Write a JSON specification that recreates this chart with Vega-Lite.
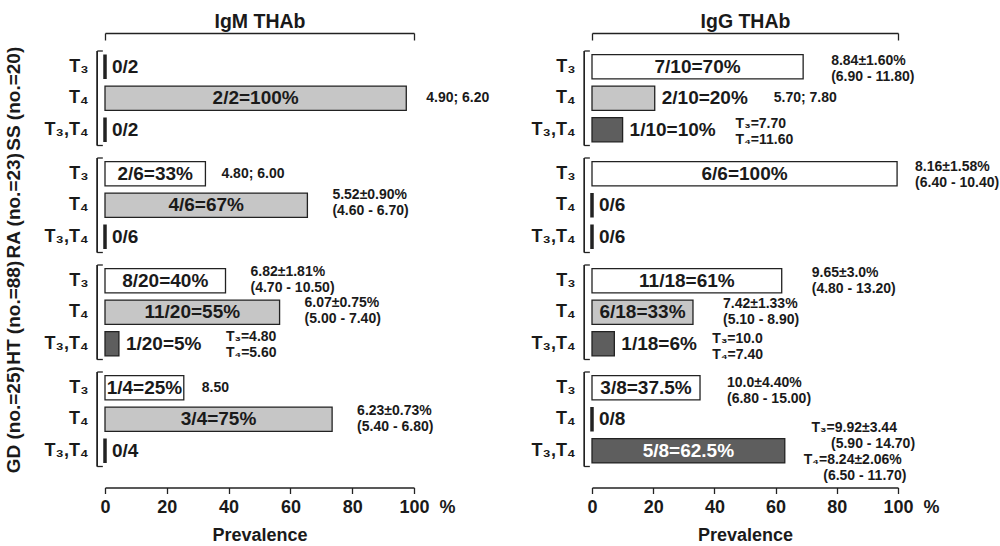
{
  "$schema": "https://vega.github.io/schema/vega-lite/v6.json",
  "padding": {"left": 4, "top": 11, "right": 0, "bottom": 0},
  "config": {
    "font": "Liberation Sans",
    "view": {"stroke": null},
    "axis": {"domainColor": "#222", "tickColor": "#222", "labelColor": "#1a1a1a", "titleColor": "#1a1a1a", "titleFontWeight": "bold", "labelFontWeight": "bold", "grid": false, "domainWidth": 1.3, "tickWidth": 1.3},
    "axisY": {"labelFontSize": 18, "labelPadding": 17, "ticks": false, "domain": false, "titleFontSize": 19, "titlePadding": 21}
  },
  "data": {"values": [
    {"ab": "IgM", "grp": "SS", "cat": "T₃", "pct": 0, "label": "0/2"},
    {"ab": "IgM", "grp": "SS", "cat": "T₄", "pct": 97.5, "label": "2/2=100%", "note": "4.90; 6.20"},
    {"ab": "IgM", "grp": "SS", "cat": "T₃,T₄", "pct": 0, "label": "0/2"},
    {"ab": "IgM", "grp": "RA", "cat": "T₃", "pct": 32.5, "label": "2/6=33%", "note": "4.80; 6.00"},
    {"ab": "IgM", "grp": "RA", "cat": "T₄", "pct": 65.5, "label": "4/6=67%", "note": "5.52±0.90%\n(4.60 - 6.70)"},
    {"ab": "IgM", "grp": "RA", "cat": "T₃,T₄", "pct": 0, "label": "0/6"},
    {"ab": "IgM", "grp": "HT", "cat": "T₃", "pct": 39, "label": "8/20=40%", "note": "6.82±1.81%\n(4.70 - 10.50)"},
    {"ab": "IgM", "grp": "HT", "cat": "T₄", "pct": 56.5, "label": "11/20=55%", "note": "6.07±0.75%\n(5.00 - 7.40)"},
    {"ab": "IgM", "grp": "HT", "cat": "T₃,T₄", "pct": 4.5, "label": "1/20=5%", "note": "T₃=4.80\nT₄=5.60"},
    {"ab": "IgM", "grp": "GD", "cat": "T₃", "pct": 25.5, "label": "1/4=25%", "note": "8.50"},
    {"ab": "IgM", "grp": "GD", "cat": "T₄", "pct": 73.5, "label": "3/4=75%", "note": "6.23±0.73%\n(5.40 - 6.80)"},
    {"ab": "IgM", "grp": "GD", "cat": "T₃,T₄", "pct": 0, "label": "0/4"},
    {"ab": "IgG", "grp": "SS", "cat": "T₃", "pct": 69, "label": "7/10=70%", "note": "8.84±1.60%\n(6.90 - 11.80)"},
    {"ab": "IgG", "grp": "SS", "cat": "T₄", "pct": 20.5, "label": "2/10=20%", "note": "5.70; 7.80"},
    {"ab": "IgG", "grp": "SS", "cat": "T₃,T₄", "pct": 10, "label": "1/10=10%", "note": "T₃=7.70\nT₄=11.60"},
    {"ab": "IgG", "grp": "RA", "cat": "T₃", "pct": 99.7, "label": "6/6=100%", "note": "8.16±1.58%\n(6.40 - 10.40)"},
    {"ab": "IgG", "grp": "RA", "cat": "T₄", "pct": 0, "label": "0/6"},
    {"ab": "IgG", "grp": "RA", "cat": "T₃,T₄", "pct": 0, "label": "0/6"},
    {"ab": "IgG", "grp": "HT", "cat": "T₃", "pct": 62, "label": "11/18=61%", "note": "9.65±3.0%\n(4.80 - 13.20)"},
    {"ab": "IgG", "grp": "HT", "cat": "T₄", "pct": 33, "label": "6/18=33%", "note": "7.42±1.33%\n(5.10 - 8.90)"},
    {"ab": "IgG", "grp": "HT", "cat": "T₃,T₄", "pct": 7.3, "label": "1/18=6%", "note": "T₃=10.0\nT₄=7.40"},
    {"ab": "IgG", "grp": "GD", "cat": "T₃", "pct": 35.3, "label": "3/8=37.5%", "note": "10.0±4.40%\n(6.80 - 15.00)"},
    {"ab": "IgG", "grp": "GD", "cat": "T₄", "pct": 0, "label": "0/8"},
    {"ab": "IgG", "grp": "GD", "cat": "T₃,T₄", "pct": 63, "label": "5/8=62.5%", "note": "\u200b\u00a0\u00a0T₃=9.92±3.44\n\u200b\u00a0\u00a0\u00a0\u00a0\u00a0\u00a0\u00a0(5.90 - 14.70)\nT₄=8.24±2.06%\n\u200b\u00a0\u00a0\u00a0\u00a0\u00a0(6.50 - 11.70)"}
  ]},
  "columns": 2,
  "spacing": {"row": 12, "column": 178},
  "bounds": "flush",
  "concat": [
    {
      "width": 309, "height": 94.5,
      "transform": [{"filter": "datum.ab == 'IgM' && datum.grp == 'SS'"}],
      "resolve": {"scale": {"x": "independent"}},
      "layer": [
        {"mark": {"type": "rule", "stroke": "#222", "strokeWidth": 1.3}, "encoding": {"x": {"datum": -2.5, "type": "quantitative", "scale": {"domain": [0, 100]}, "axis": null}}},
        {"transform": [{"filter": "datum.cat == 'T₃'"}], "mark": {"type": "rule", "stroke": "#222", "strokeWidth": 1.3}, "encoding": {"x": {"datum": -2.5, "type": "quantitative", "scale": {"domain": [0, 100]}, "axis": null}, "x2": {"datum": -0.7}, "y": {"field": "cat", "type": "nominal", "bandPosition": 0, "axis": {"title": "SS (no.=20)"}}}},
        {"transform": [{"filter": "datum.cat == 'T₃,T₄'"}], "mark": {"type": "rule", "stroke": "#222", "strokeWidth": 1.3}, "encoding": {"x": {"datum": -2.5, "type": "quantitative", "scale": {"domain": [0, 100]}, "axis": null}, "x2": {"datum": -0.7}, "y": {"field": "cat", "type": "nominal", "bandPosition": 1, "axis": {"title": "SS (no.=20)"}}}},
        {"mark": {"type": "bar", "height": {"band": 0.77}, "stroke": "#222"},
         "encoding": {
           "x": {"field": "pct", "type": "quantitative", "scale": {"domain": [0, 100]}, "axis": {"orient": "top", "values": [0, 100], "labels": false, "tickSize": -7, "offset": 18, "title": "IgM THAb", "titleFontSize": 19.5, "titlePadding": 1}},
           "y": {"field": "cat", "type": "nominal", "scale": {"domain": ["T₃", "T₄", "T₃,T₄"], "paddingInner": 0, "paddingOuter": 0}, "axis": {"title": "SS (no.=20)"}},
           "fill": {"field": "cat", "type": "nominal", "scale": {"domain": ["T₃", "T₄", "T₃,T₄"], "range": ["#ffffff", "#c6c6c6", "#5e5e5e"]}, "legend": null},
           "strokeWidth": {"condition": {"test": "datum.pct == 0", "value": 3.5}, "value": 1.3}
         }},
        {"transform": [{"filter": "datum.pct >= 25"}], "mark": {"type": "text", "fontSize": 19, "fontWeight": "bold", "baseline": "middle", "align": "center"},
         "encoding": {"x": {"field": "pct", "type": "quantitative", "scale": {"domain": [0, 200]}, "axis": null}, "y": {"field": "cat", "type": "nominal", "axis": {"title": "SS (no.=20)"}}, "text": {"field": "label"}, "color": {"condition": {"test": "datum.cat == 'T₃,T₄'", "value": "#ffffff"}, "value": "#1a1a1a"}}},
        {"transform": [{"filter": "datum.pct < 25"}], "mark": {"type": "text", "fontSize": 19, "fontWeight": "bold", "baseline": "middle", "align": "left", "dx": 7, "color": "#1a1a1a"},
         "encoding": {"x": {"field": "pct", "type": "quantitative", "scale": {"domain": [0, 100]}, "axis": null}, "y": {"field": "cat", "type": "nominal", "axis": {"title": "SS (no.=20)"}}, "text": {"field": "label"}}},
        {"transform": [{"filter": "datum.pct >= 25 && datum.note && indexof(datum.note, '\\n') < 0"}], "mark": {"type": "text", "fontSize": 14, "fontWeight": "bold", "baseline": "middle", "align": "left", "dx": 20, "color": "#1a1a1a"},
         "encoding": {"x": {"field": "pct", "type": "quantitative", "scale": {"domain": [0, 100]}, "axis": null}, "y": {"field": "cat", "type": "nominal", "axis": {"title": "SS (no.=20)"}}, "text": {"field": "note"}}}
      ]
    },
    {
      "width": 306, "height": 94.5,
      "transform": [{"filter": "datum.ab == 'IgG' && datum.grp == 'SS'"}],
      "resolve": {"scale": {"x": "independent"}},
      "layer": [
        {"mark": {"type": "rule", "stroke": "#222", "strokeWidth": 1.3}, "encoding": {"x": {"datum": -2.5, "type": "quantitative", "scale": {"domain": [0, 100]}, "axis": null}}},
        {"transform": [{"filter": "datum.cat == 'T₃'"}], "mark": {"type": "rule", "stroke": "#222", "strokeWidth": 1.3}, "encoding": {"x": {"datum": -2.5, "type": "quantitative", "scale": {"domain": [0, 100]}, "axis": null}, "x2": {"datum": -0.7}, "y": {"field": "cat", "type": "nominal", "bandPosition": 0, "axis": {"title": null}}}},
        {"transform": [{"filter": "datum.cat == 'T₃,T₄'"}], "mark": {"type": "rule", "stroke": "#222", "strokeWidth": 1.3}, "encoding": {"x": {"datum": -2.5, "type": "quantitative", "scale": {"domain": [0, 100]}, "axis": null}, "x2": {"datum": -0.7}, "y": {"field": "cat", "type": "nominal", "bandPosition": 1, "axis": {"title": null}}}},
        {"mark": {"type": "bar", "height": {"band": 0.77}, "stroke": "#222"},
         "encoding": {
           "x": {"field": "pct", "type": "quantitative", "scale": {"domain": [0, 100]}, "axis": {"orient": "top", "values": [0, 100], "labels": false, "tickSize": -7, "offset": 18, "title": "IgG THAb", "titleFontSize": 19.5, "titlePadding": 1}},
           "y": {"field": "cat", "type": "nominal", "scale": {"domain": ["T₃", "T₄", "T₃,T₄"], "paddingInner": 0, "paddingOuter": 0}, "axis": {"title": null}},
           "fill": {"field": "cat", "type": "nominal", "scale": {"domain": ["T₃", "T₄", "T₃,T₄"], "range": ["#ffffff", "#c6c6c6", "#5e5e5e"]}, "legend": null},
           "strokeWidth": {"condition": {"test": "datum.pct == 0", "value": 3.5}, "value": 1.3}
         }},
        {"transform": [{"filter": "datum.pct >= 25"}], "mark": {"type": "text", "fontSize": 19, "fontWeight": "bold", "baseline": "middle", "align": "center"},
         "encoding": {"x": {"field": "pct", "type": "quantitative", "scale": {"domain": [0, 200]}, "axis": null}, "y": {"field": "cat", "type": "nominal", "axis": {"title": null}}, "text": {"field": "label"}, "color": {"condition": {"test": "datum.cat == 'T₃,T₄'", "value": "#ffffff"}, "value": "#1a1a1a"}}},
        {"transform": [{"filter": "datum.pct < 25"}], "mark": {"type": "text", "fontSize": 19, "fontWeight": "bold", "baseline": "middle", "align": "left", "dx": 7, "color": "#1a1a1a"},
         "encoding": {"x": {"field": "pct", "type": "quantitative", "scale": {"domain": [0, 100]}, "axis": null}, "y": {"field": "cat", "type": "nominal", "axis": {"title": null}}, "text": {"field": "label"}}},
        {"transform": [{"filter": "datum.pct >= 25 && datum.note && indexof(datum.note, '\\n') >= 0"}], "mark": {"type": "text", "fontSize": 14, "fontWeight": "bold", "baseline": "middle", "align": "left", "dx": 28, "dy": -6, "lineBreak": "\n", "lineHeight": 16, "color": "#1a1a1a"},
         "encoding": {"x": {"field": "pct", "type": "quantitative", "scale": {"domain": [0, 100]}, "axis": null}, "y": {"field": "cat", "type": "nominal", "axis": {"title": null}}, "text": {"field": "note"}}},
        {"transform": [{"filter": "datum.pct < 25 && datum.note && indexof(datum.note, '\\n') < 0"}], "mark": {"type": "text", "fontSize": 14, "fontWeight": "bold", "baseline": "middle", "align": "left", "dx": 119, "color": "#1a1a1a"},
         "encoding": {"x": {"field": "pct", "type": "quantitative", "scale": {"domain": [0, 100]}, "axis": null}, "y": {"field": "cat", "type": "nominal", "axis": {"title": null}}, "text": {"field": "note"}}},
        {"transform": [{"filter": "datum.pct < 25 && datum.note && indexof(datum.note, '\\n') >= 0"}], "mark": {"type": "text", "fontSize": 14, "fontWeight": "bold", "baseline": "middle", "align": "left", "dx": 113, "dy": -6, "lineBreak": "\n", "lineHeight": 16, "color": "#1a1a1a"},
         "encoding": {"x": {"field": "pct", "type": "quantitative", "scale": {"domain": [0, 100]}, "axis": null}, "y": {"field": "cat", "type": "nominal", "axis": {"title": null}}, "text": {"field": "note"}}}
      ]
    },
    {
      "width": 309, "height": 94.5,
      "transform": [{"filter": "datum.ab == 'IgM' && datum.grp == 'RA'"}],
      "resolve": {"scale": {"x": "independent"}},
      "layer": [
        {"mark": {"type": "rule", "stroke": "#222", "strokeWidth": 1.3}, "encoding": {"x": {"datum": -2.5, "type": "quantitative", "scale": {"domain": [0, 100]}, "axis": null}}},
        {"transform": [{"filter": "datum.cat == 'T₃'"}], "mark": {"type": "rule", "stroke": "#222", "strokeWidth": 1.3}, "encoding": {"x": {"datum": -2.5, "type": "quantitative", "scale": {"domain": [0, 100]}, "axis": null}, "x2": {"datum": -0.7}, "y": {"field": "cat", "type": "nominal", "bandPosition": 0, "axis": {"title": "RA (no.=23)"}}}},
        {"transform": [{"filter": "datum.cat == 'T₃,T₄'"}], "mark": {"type": "rule", "stroke": "#222", "strokeWidth": 1.3}, "encoding": {"x": {"datum": -2.5, "type": "quantitative", "scale": {"domain": [0, 100]}, "axis": null}, "x2": {"datum": -0.7}, "y": {"field": "cat", "type": "nominal", "bandPosition": 1, "axis": {"title": "RA (no.=23)"}}}},
        {"mark": {"type": "bar", "height": {"band": 0.77}, "stroke": "#222"},
         "encoding": {
           "x": {"field": "pct", "type": "quantitative", "scale": {"domain": [0, 100]}, "axis": null},
           "y": {"field": "cat", "type": "nominal", "scale": {"domain": ["T₃", "T₄", "T₃,T₄"], "paddingInner": 0, "paddingOuter": 0}, "axis": {"title": "RA (no.=23)"}},
           "fill": {"field": "cat", "type": "nominal", "scale": {"domain": ["T₃", "T₄", "T₃,T₄"], "range": ["#ffffff", "#c6c6c6", "#5e5e5e"]}, "legend": null},
           "strokeWidth": {"condition": {"test": "datum.pct == 0", "value": 3.5}, "value": 1.3}
         }},
        {"transform": [{"filter": "datum.pct >= 25"}], "mark": {"type": "text", "fontSize": 19, "fontWeight": "bold", "baseline": "middle", "align": "center"},
         "encoding": {"x": {"field": "pct", "type": "quantitative", "scale": {"domain": [0, 200]}, "axis": null}, "y": {"field": "cat", "type": "nominal", "axis": {"title": "RA (no.=23)"}}, "text": {"field": "label"}, "color": {"condition": {"test": "datum.cat == 'T₃,T₄'", "value": "#ffffff"}, "value": "#1a1a1a"}}},
        {"transform": [{"filter": "datum.pct < 25"}], "mark": {"type": "text", "fontSize": 19, "fontWeight": "bold", "baseline": "middle", "align": "left", "dx": 7, "color": "#1a1a1a"},
         "encoding": {"x": {"field": "pct", "type": "quantitative", "scale": {"domain": [0, 100]}, "axis": null}, "y": {"field": "cat", "type": "nominal", "axis": {"title": "RA (no.=23)"}}, "text": {"field": "label"}}},
        {"transform": [{"filter": "datum.pct >= 25 && datum.note && indexof(datum.note, '\\n') < 0"}], "mark": {"type": "text", "fontSize": 14, "fontWeight": "bold", "baseline": "middle", "align": "left", "dx": 16, "color": "#1a1a1a"},
         "encoding": {"x": {"field": "pct", "type": "quantitative", "scale": {"domain": [0, 100]}, "axis": null}, "y": {"field": "cat", "type": "nominal", "axis": {"title": "RA (no.=23)"}}, "text": {"field": "note"}}},
        {"transform": [{"filter": "datum.pct >= 25 && datum.note && indexof(datum.note, '\\n') >= 0"}], "mark": {"type": "text", "fontSize": 14, "fontWeight": "bold", "baseline": "middle", "align": "left", "dx": 25, "dy": -10, "lineBreak": "\n", "lineHeight": 16, "color": "#1a1a1a"},
         "encoding": {"x": {"field": "pct", "type": "quantitative", "scale": {"domain": [0, 100]}, "axis": null}, "y": {"field": "cat", "type": "nominal", "axis": {"title": "RA (no.=23)"}}, "text": {"field": "note"}}}
      ]
    },
    {
      "width": 306, "height": 94.5,
      "transform": [{"filter": "datum.ab == 'IgG' && datum.grp == 'RA'"}],
      "resolve": {"scale": {"x": "independent"}},
      "layer": [
        {"mark": {"type": "rule", "stroke": "#222", "strokeWidth": 1.3}, "encoding": {"x": {"datum": -2.5, "type": "quantitative", "scale": {"domain": [0, 100]}, "axis": null}}},
        {"transform": [{"filter": "datum.cat == 'T₃'"}], "mark": {"type": "rule", "stroke": "#222", "strokeWidth": 1.3}, "encoding": {"x": {"datum": -2.5, "type": "quantitative", "scale": {"domain": [0, 100]}, "axis": null}, "x2": {"datum": -0.7}, "y": {"field": "cat", "type": "nominal", "bandPosition": 0, "axis": {"title": null}}}},
        {"transform": [{"filter": "datum.cat == 'T₃,T₄'"}], "mark": {"type": "rule", "stroke": "#222", "strokeWidth": 1.3}, "encoding": {"x": {"datum": -2.5, "type": "quantitative", "scale": {"domain": [0, 100]}, "axis": null}, "x2": {"datum": -0.7}, "y": {"field": "cat", "type": "nominal", "bandPosition": 1, "axis": {"title": null}}}},
        {"mark": {"type": "bar", "height": {"band": 0.77}, "stroke": "#222"},
         "encoding": {
           "x": {"field": "pct", "type": "quantitative", "scale": {"domain": [0, 100]}, "axis": null},
           "y": {"field": "cat", "type": "nominal", "scale": {"domain": ["T₃", "T₄", "T₃,T₄"], "paddingInner": 0, "paddingOuter": 0}, "axis": {"title": null}},
           "fill": {"field": "cat", "type": "nominal", "scale": {"domain": ["T₃", "T₄", "T₃,T₄"], "range": ["#ffffff", "#c6c6c6", "#5e5e5e"]}, "legend": null},
           "strokeWidth": {"condition": {"test": "datum.pct == 0", "value": 3.5}, "value": 1.3}
         }},
        {"transform": [{"filter": "datum.pct >= 25"}], "mark": {"type": "text", "fontSize": 19, "fontWeight": "bold", "baseline": "middle", "align": "center"},
         "encoding": {"x": {"field": "pct", "type": "quantitative", "scale": {"domain": [0, 200]}, "axis": null}, "y": {"field": "cat", "type": "nominal", "axis": {"title": null}}, "text": {"field": "label"}, "color": {"condition": {"test": "datum.cat == 'T₃,T₄'", "value": "#ffffff"}, "value": "#1a1a1a"}}},
        {"transform": [{"filter": "datum.pct < 25"}], "mark": {"type": "text", "fontSize": 19, "fontWeight": "bold", "baseline": "middle", "align": "left", "dx": 7, "color": "#1a1a1a"},
         "encoding": {"x": {"field": "pct", "type": "quantitative", "scale": {"domain": [0, 100]}, "axis": null}, "y": {"field": "cat", "type": "nominal", "axis": {"title": null}}, "text": {"field": "label"}}},
        {"transform": [{"filter": "datum.pct >= 25 && datum.note && indexof(datum.note, '\\n') >= 0"}], "mark": {"type": "text", "fontSize": 14, "fontWeight": "bold", "baseline": "middle", "align": "left", "dx": 18, "dy": -7, "lineBreak": "\n", "lineHeight": 16, "color": "#1a1a1a"},
         "encoding": {"x": {"field": "pct", "type": "quantitative", "scale": {"domain": [0, 100]}, "axis": null}, "y": {"field": "cat", "type": "nominal", "axis": {"title": null}}, "text": {"field": "note"}}}
      ]
    },
    {
      "width": 309, "height": 94.5,
      "transform": [{"filter": "datum.ab == 'IgM' && datum.grp == 'HT'"}],
      "resolve": {"scale": {"x": "independent"}},
      "layer": [
        {"mark": {"type": "rule", "stroke": "#222", "strokeWidth": 1.3}, "encoding": {"x": {"datum": -2.5, "type": "quantitative", "scale": {"domain": [0, 100]}, "axis": null}}},
        {"transform": [{"filter": "datum.cat == 'T₃'"}], "mark": {"type": "rule", "stroke": "#222", "strokeWidth": 1.3}, "encoding": {"x": {"datum": -2.5, "type": "quantitative", "scale": {"domain": [0, 100]}, "axis": null}, "x2": {"datum": -0.7}, "y": {"field": "cat", "type": "nominal", "bandPosition": 0, "axis": {"title": "HT (no.=88)"}}}},
        {"transform": [{"filter": "datum.cat == 'T₃,T₄'"}], "mark": {"type": "rule", "stroke": "#222", "strokeWidth": 1.3}, "encoding": {"x": {"datum": -2.5, "type": "quantitative", "scale": {"domain": [0, 100]}, "axis": null}, "x2": {"datum": -0.7}, "y": {"field": "cat", "type": "nominal", "bandPosition": 1, "axis": {"title": "HT (no.=88)"}}}},
        {"mark": {"type": "bar", "height": {"band": 0.77}, "stroke": "#222"},
         "encoding": {
           "x": {"field": "pct", "type": "quantitative", "scale": {"domain": [0, 100]}, "axis": null},
           "y": {"field": "cat", "type": "nominal", "scale": {"domain": ["T₃", "T₄", "T₃,T₄"], "paddingInner": 0, "paddingOuter": 0}, "axis": {"title": "HT (no.=88)"}},
           "fill": {"field": "cat", "type": "nominal", "scale": {"domain": ["T₃", "T₄", "T₃,T₄"], "range": ["#ffffff", "#c6c6c6", "#5e5e5e"]}, "legend": null},
           "strokeWidth": {"condition": {"test": "datum.pct == 0", "value": 3.5}, "value": 1.3}
         }},
        {"transform": [{"filter": "datum.pct >= 25"}], "mark": {"type": "text", "fontSize": 19, "fontWeight": "bold", "baseline": "middle", "align": "center"},
         "encoding": {"x": {"field": "pct", "type": "quantitative", "scale": {"domain": [0, 200]}, "axis": null}, "y": {"field": "cat", "type": "nominal", "axis": {"title": "HT (no.=88)"}}, "text": {"field": "label"}, "color": {"condition": {"test": "datum.cat == 'T₃,T₄'", "value": "#ffffff"}, "value": "#1a1a1a"}}},
        {"transform": [{"filter": "datum.pct < 25"}], "mark": {"type": "text", "fontSize": 19, "fontWeight": "bold", "baseline": "middle", "align": "left", "dx": 7, "color": "#1a1a1a"},
         "encoding": {"x": {"field": "pct", "type": "quantitative", "scale": {"domain": [0, 100]}, "axis": null}, "y": {"field": "cat", "type": "nominal", "axis": {"title": "HT (no.=88)"}}, "text": {"field": "label"}}},
        {"transform": [{"filter": "datum.pct >= 25 && datum.note && indexof(datum.note, '\\n') >= 0"}], "mark": {"type": "text", "fontSize": 14, "fontWeight": "bold", "baseline": "middle", "align": "left", "dx": 25, "dy": -9, "lineBreak": "\n", "lineHeight": 16, "color": "#1a1a1a"},
         "encoding": {"x": {"field": "pct", "type": "quantitative", "scale": {"domain": [0, 100]}, "axis": null}, "y": {"field": "cat", "type": "nominal", "axis": {"title": "HT (no.=88)"}}, "text": {"field": "note"}}},
        {"transform": [{"filter": "datum.pct < 25 && datum.note && indexof(datum.note, '\\n') >= 0"}], "mark": {"type": "text", "fontSize": 14, "fontWeight": "bold", "baseline": "middle", "align": "left", "dx": 107, "dy": -7, "lineBreak": "\n", "lineHeight": 16, "color": "#1a1a1a"},
         "encoding": {"x": {"field": "pct", "type": "quantitative", "scale": {"domain": [0, 100]}, "axis": null}, "y": {"field": "cat", "type": "nominal", "axis": {"title": "HT (no.=88)"}}, "text": {"field": "note"}}}
      ]
    },
    {
      "width": 306, "height": 94.5,
      "transform": [{"filter": "datum.ab == 'IgG' && datum.grp == 'HT'"}],
      "resolve": {"scale": {"x": "independent"}},
      "layer": [
        {"mark": {"type": "rule", "stroke": "#222", "strokeWidth": 1.3}, "encoding": {"x": {"datum": -2.5, "type": "quantitative", "scale": {"domain": [0, 100]}, "axis": null}}},
        {"transform": [{"filter": "datum.cat == 'T₃'"}], "mark": {"type": "rule", "stroke": "#222", "strokeWidth": 1.3}, "encoding": {"x": {"datum": -2.5, "type": "quantitative", "scale": {"domain": [0, 100]}, "axis": null}, "x2": {"datum": -0.7}, "y": {"field": "cat", "type": "nominal", "bandPosition": 0, "axis": {"title": null}}}},
        {"transform": [{"filter": "datum.cat == 'T₃,T₄'"}], "mark": {"type": "rule", "stroke": "#222", "strokeWidth": 1.3}, "encoding": {"x": {"datum": -2.5, "type": "quantitative", "scale": {"domain": [0, 100]}, "axis": null}, "x2": {"datum": -0.7}, "y": {"field": "cat", "type": "nominal", "bandPosition": 1, "axis": {"title": null}}}},
        {"mark": {"type": "bar", "height": {"band": 0.77}, "stroke": "#222"},
         "encoding": {
           "x": {"field": "pct", "type": "quantitative", "scale": {"domain": [0, 100]}, "axis": null},
           "y": {"field": "cat", "type": "nominal", "scale": {"domain": ["T₃", "T₄", "T₃,T₄"], "paddingInner": 0, "paddingOuter": 0}, "axis": {"title": null}},
           "fill": {"field": "cat", "type": "nominal", "scale": {"domain": ["T₃", "T₄", "T₃,T₄"], "range": ["#ffffff", "#c6c6c6", "#5e5e5e"]}, "legend": null},
           "strokeWidth": {"condition": {"test": "datum.pct == 0", "value": 3.5}, "value": 1.3}
         }},
        {"transform": [{"filter": "datum.pct >= 25"}], "mark": {"type": "text", "fontSize": 19, "fontWeight": "bold", "baseline": "middle", "align": "center"},
         "encoding": {"x": {"field": "pct", "type": "quantitative", "scale": {"domain": [0, 200]}, "axis": null}, "y": {"field": "cat", "type": "nominal", "axis": {"title": null}}, "text": {"field": "label"}, "color": {"condition": {"test": "datum.cat == 'T₃,T₄'", "value": "#ffffff"}, "value": "#1a1a1a"}}},
        {"transform": [{"filter": "datum.pct < 25"}], "mark": {"type": "text", "fontSize": 19, "fontWeight": "bold", "baseline": "middle", "align": "left", "dx": 7, "color": "#1a1a1a"},
         "encoding": {"x": {"field": "pct", "type": "quantitative", "scale": {"domain": [0, 100]}, "axis": null}, "y": {"field": "cat", "type": "nominal", "axis": {"title": null}}, "text": {"field": "label"}}},
        {"transform": [{"filter": "datum.pct >= 25 && datum.note && indexof(datum.note, '\\n') >= 0"}], "mark": {"type": "text", "fontSize": 14, "fontWeight": "bold", "baseline": "middle", "align": "left", "dx": 30, "dy": -8, "lineBreak": "\n", "lineHeight": 16, "color": "#1a1a1a"},
         "encoding": {"x": {"field": "pct", "type": "quantitative", "scale": {"domain": [0, 100]}, "axis": null}, "y": {"field": "cat", "type": "nominal", "axis": {"title": null}}, "text": {"field": "note"}}},
        {"transform": [{"filter": "datum.pct < 25 && datum.note && indexof(datum.note, '\\n') >= 0"}], "mark": {"type": "text", "fontSize": 14, "fontWeight": "bold", "baseline": "middle", "align": "left", "dx": 98, "dy": -5, "lineBreak": "\n", "lineHeight": 16, "color": "#1a1a1a"},
         "encoding": {"x": {"field": "pct", "type": "quantitative", "scale": {"domain": [0, 100]}, "axis": null}, "y": {"field": "cat", "type": "nominal", "axis": {"title": null}}, "text": {"field": "note"}}}
      ]
    },
    {
      "width": 309, "height": 94.5,
      "transform": [{"filter": "datum.ab == 'IgM' && datum.grp == 'GD'"}],
      "resolve": {"scale": {"x": "independent"}},
      "layer": [
        {"mark": {"type": "rule", "stroke": "#222", "strokeWidth": 1.3}, "encoding": {"x": {"datum": -2.5, "type": "quantitative", "scale": {"domain": [0, 100]}, "axis": null}}},
        {"transform": [{"filter": "datum.cat == 'T₃'"}], "mark": {"type": "rule", "stroke": "#222", "strokeWidth": 1.3}, "encoding": {"x": {"datum": -2.5, "type": "quantitative", "scale": {"domain": [0, 100]}, "axis": null}, "x2": {"datum": -0.7}, "y": {"field": "cat", "type": "nominal", "bandPosition": 0, "axis": {"title": "GD (no.=25)"}}}},
        {"transform": [{"filter": "datum.cat == 'T₃,T₄'"}], "mark": {"type": "rule", "stroke": "#222", "strokeWidth": 1.3}, "encoding": {"x": {"datum": -2.5, "type": "quantitative", "scale": {"domain": [0, 100]}, "axis": null}, "x2": {"datum": -0.7}, "y": {"field": "cat", "type": "nominal", "bandPosition": 1, "axis": {"title": "GD (no.=25)"}}}},
        {"mark": {"type": "bar", "height": {"band": 0.77}, "stroke": "#222"},
         "encoding": {
           "x": {"field": "pct", "type": "quantitative", "scale": {"domain": [0, 100]}, "axis": {"orient": "bottom", "values": [0, 20, 40, 60, 80, 100], "offset": 21, "tickSize": 6, "labelFontSize": 18, "labelPadding": 5, "labelFlush": false, "labelOverlap": false, "labelExpr": "datum.value == 100 ? '100\u00a0 %' : datum.label", "labelAlign": {"condition": {"test": "datum.value == 100", "value": "left"}, "value": "center"}, "labelOffset": {"condition": {"test": "datum.value == 100", "value": -15}, "value": 0}, "title": "Prevalence", "titleFontSize": 18, "titlePadding": 10}},
           "y": {"field": "cat", "type": "nominal", "scale": {"domain": ["T₃", "T₄", "T₃,T₄"], "paddingInner": 0, "paddingOuter": 0}, "axis": {"title": "GD (no.=25)"}},
           "fill": {"field": "cat", "type": "nominal", "scale": {"domain": ["T₃", "T₄", "T₃,T₄"], "range": ["#ffffff", "#c6c6c6", "#5e5e5e"]}, "legend": null},
           "strokeWidth": {"condition": {"test": "datum.pct == 0", "value": 3.5}, "value": 1.3}
         }},
        {"transform": [{"filter": "datum.pct >= 25"}], "mark": {"type": "text", "fontSize": 19, "fontWeight": "bold", "baseline": "middle", "align": "center"},
         "encoding": {"x": {"field": "pct", "type": "quantitative", "scale": {"domain": [0, 200]}, "axis": null}, "y": {"field": "cat", "type": "nominal", "axis": {"title": "GD (no.=25)"}}, "text": {"field": "label"}, "color": {"condition": {"test": "datum.cat == 'T₃,T₄'", "value": "#ffffff"}, "value": "#1a1a1a"}}},
        {"transform": [{"filter": "datum.pct < 25"}], "mark": {"type": "text", "fontSize": 19, "fontWeight": "bold", "baseline": "middle", "align": "left", "dx": 7, "color": "#1a1a1a"},
         "encoding": {"x": {"field": "pct", "type": "quantitative", "scale": {"domain": [0, 100]}, "axis": null}, "y": {"field": "cat", "type": "nominal", "axis": {"title": "GD (no.=25)"}}, "text": {"field": "label"}}},
        {"transform": [{"filter": "datum.pct >= 25 && datum.note && indexof(datum.note, '\\n') < 0"}], "mark": {"type": "text", "fontSize": 14, "fontWeight": "bold", "baseline": "middle", "align": "left", "dx": 18, "color": "#1a1a1a"},
         "encoding": {"x": {"field": "pct", "type": "quantitative", "scale": {"domain": [0, 100]}, "axis": null}, "y": {"field": "cat", "type": "nominal", "axis": {"title": "GD (no.=25)"}}, "text": {"field": "note"}}},
        {"transform": [{"filter": "datum.pct >= 25 && datum.note && indexof(datum.note, '\\n') >= 0"}], "mark": {"type": "text", "fontSize": 14, "fontWeight": "bold", "baseline": "middle", "align": "left", "dx": 25, "dy": -8, "lineBreak": "\n", "lineHeight": 16, "color": "#1a1a1a"},
         "encoding": {"x": {"field": "pct", "type": "quantitative", "scale": {"domain": [0, 100]}, "axis": null}, "y": {"field": "cat", "type": "nominal", "axis": {"title": "GD (no.=25)"}}, "text": {"field": "note"}}}
      ]
    },
    {
      "width": 306, "height": 94.5,
      "transform": [{"filter": "datum.ab == 'IgG' && datum.grp == 'GD'"}],
      "resolve": {"scale": {"x": "independent"}},
      "layer": [
        {"mark": {"type": "rule", "stroke": "#222", "strokeWidth": 1.3}, "encoding": {"x": {"datum": -2.5, "type": "quantitative", "scale": {"domain": [0, 100]}, "axis": null}}},
        {"transform": [{"filter": "datum.cat == 'T₃'"}], "mark": {"type": "rule", "stroke": "#222", "strokeWidth": 1.3}, "encoding": {"x": {"datum": -2.5, "type": "quantitative", "scale": {"domain": [0, 100]}, "axis": null}, "x2": {"datum": -0.7}, "y": {"field": "cat", "type": "nominal", "bandPosition": 0, "axis": {"title": null}}}},
        {"transform": [{"filter": "datum.cat == 'T₃,T₄'"}], "mark": {"type": "rule", "stroke": "#222", "strokeWidth": 1.3}, "encoding": {"x": {"datum": -2.5, "type": "quantitative", "scale": {"domain": [0, 100]}, "axis": null}, "x2": {"datum": -0.7}, "y": {"field": "cat", "type": "nominal", "bandPosition": 1, "axis": {"title": null}}}},
        {"mark": {"type": "bar", "height": {"band": 0.77}, "stroke": "#222"},
         "encoding": {
           "x": {"field": "pct", "type": "quantitative", "scale": {"domain": [0, 100]}, "axis": {"orient": "bottom", "values": [0, 20, 40, 60, 80, 100], "offset": 21, "tickSize": 6, "labelFontSize": 18, "labelPadding": 5, "labelFlush": false, "labelOverlap": false, "labelExpr": "datum.value == 100 ? '100\u00a0 %' : datum.label", "labelAlign": {"condition": {"test": "datum.value == 100", "value": "left"}, "value": "center"}, "labelOffset": {"condition": {"test": "datum.value == 100", "value": -15}, "value": 0}, "title": "Prevalence", "titleFontSize": 18, "titlePadding": 10}},
           "y": {"field": "cat", "type": "nominal", "scale": {"domain": ["T₃", "T₄", "T₃,T₄"], "paddingInner": 0, "paddingOuter": 0}, "axis": {"title": null}},
           "fill": {"field": "cat", "type": "nominal", "scale": {"domain": ["T₃", "T₄", "T₃,T₄"], "range": ["#ffffff", "#c6c6c6", "#5e5e5e"]}, "legend": null},
           "strokeWidth": {"condition": {"test": "datum.pct == 0", "value": 3.5}, "value": 1.3}
         }},
        {"transform": [{"filter": "datum.pct >= 25"}], "mark": {"type": "text", "fontSize": 19, "fontWeight": "bold", "baseline": "middle", "align": "center"},
         "encoding": {"x": {"field": "pct", "type": "quantitative", "scale": {"domain": [0, 200]}, "axis": null}, "y": {"field": "cat", "type": "nominal", "axis": {"title": null}}, "text": {"field": "label"}, "color": {"condition": {"test": "datum.cat == 'T₃,T₄'", "value": "#ffffff"}, "value": "#1a1a1a"}}},
        {"transform": [{"filter": "datum.pct < 25"}], "mark": {"type": "text", "fontSize": 19, "fontWeight": "bold", "baseline": "middle", "align": "left", "dx": 7, "color": "#1a1a1a"},
         "encoding": {"x": {"field": "pct", "type": "quantitative", "scale": {"domain": [0, 100]}, "axis": null}, "y": {"field": "cat", "type": "nominal", "axis": {"title": null}}, "text": {"field": "label"}}},
        {"transform": [{"filter": "datum.pct >= 25 && datum.note && length(split(datum.note, '\\n')) == 2"}], "mark": {"type": "text", "fontSize": 14, "fontWeight": "bold", "baseline": "middle", "align": "left", "dx": 27, "dy": -5, "lineBreak": "\n", "lineHeight": 16, "color": "#1a1a1a"},
         "encoding": {"x": {"field": "pct", "type": "quantitative", "scale": {"domain": [0, 100]}, "axis": null}, "y": {"field": "cat", "type": "nominal", "axis": {"title": null}}, "text": {"field": "note"}}},
        {"transform": [{"filter": "datum.pct >= 25 && datum.note && length(split(datum.note, '\\n')) == 4"}], "mark": {"type": "text", "fontSize": 14, "fontWeight": "bold", "baseline": "middle", "align": "left", "dx": 19, "dy": -23, "lineBreak": "\n", "lineHeight": 16, "color": "#1a1a1a"},
         "encoding": {"x": {"field": "pct", "type": "quantitative", "scale": {"domain": [0, 100]}, "axis": null}, "y": {"field": "cat", "type": "nominal", "axis": {"title": null}}, "text": {"field": "note"}}}
      ]
    }
  ]
}
